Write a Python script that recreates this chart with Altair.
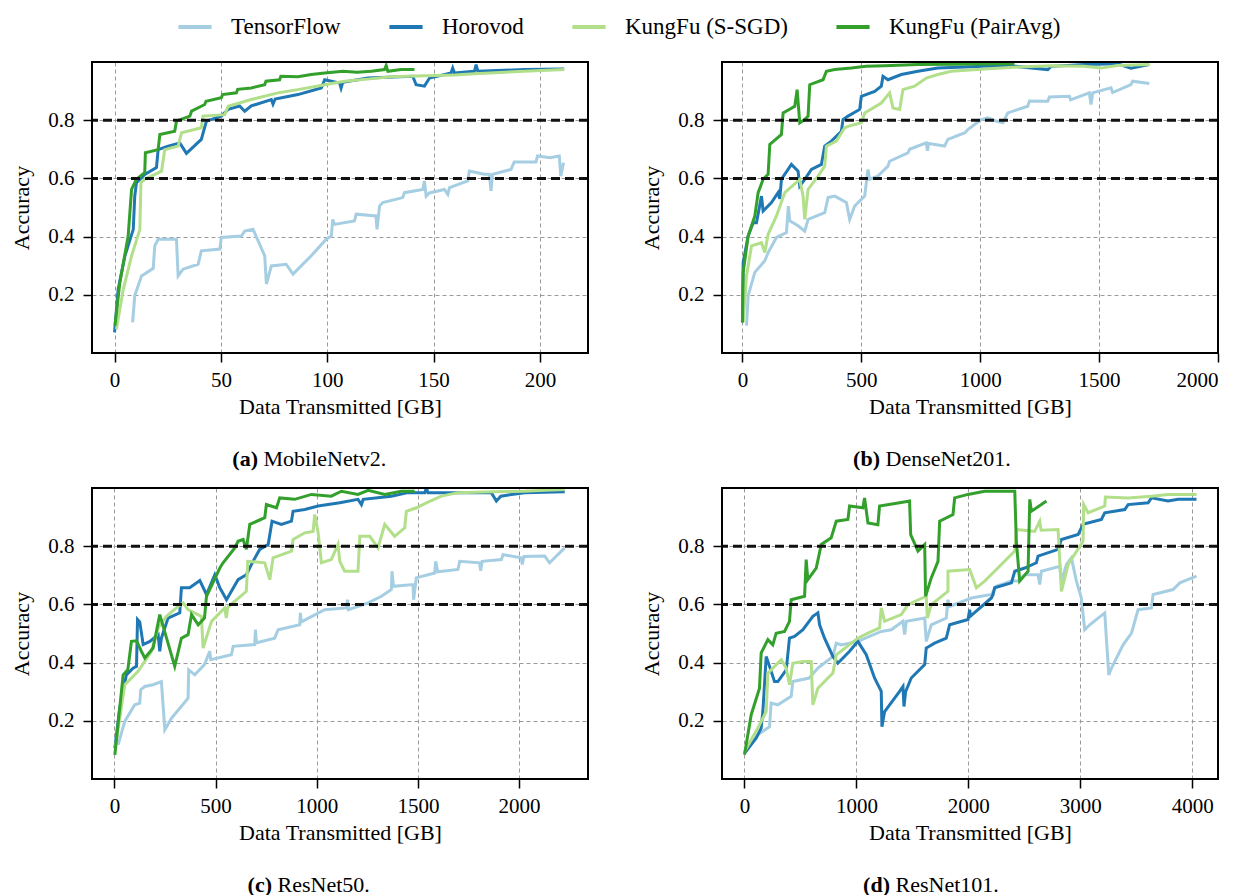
import altair as alt
import pandas as pd

SERIES = ["TensorFlow", "Horovod", "KungFu (S-SGD)", "KungFu (PairAvg)"]
COLORS = ["#a6cee3", "#1f78b4", "#b2df8a", "#33a02c"]
FONT = "Liberation Serif"
THRESHOLDS = [0.6, 0.8]
Y_TICKS = [0.2, 0.4, 0.6, 0.8]

# ---------------- (a) MobileNetv2 ----------------
A_TF = [(8.5,0.105),(9.5,0.197),(12.7,0.265),(18.2,0.291),(18.9,0.368),(20.5,0.391),(29.1,0.391),(29.9,0.265),
        (32.2,0.288),(39.3,0.305),(40.8,0.351),(49.5,0.357),(50.2,0.397),(59.6,0.402),(61.2,0.419),(65.1,0.425),
        (70.6,0.334),(71.4,0.237),(73.7,0.299),(80.7,0.305),(83.9,0.271),(92.5,0.334),(99.5,0.391),(101.9,0.402),
        (102.6,0.459),(103.4,0.442),(112.8,0.454),(113.6,0.477),(122.9,0.471),(123.4,0.425),(124.6,0.505),
        (126.1,0.517),(135.5,0.534),(136.3,0.551),(144.9,0.562),(145.7,0.591),(146.5,0.539),(148.0,0.550),
        (155.1,0.562),(156.7,0.545),(157.5,0.568),(166.1,0.591),(166.8,0.625),(173.9,0.614),(176.2,0.614),
        (177.0,0.557),(177.7,0.614),(186.4,0.631),(187.9,0.656),(198.1,0.656),(198.9,0.677),(204.8,0.671),
        (209.1,0.677),(209.8,0.608),(211.1,0.654)]
A_HV = [(0,0.071),(1.7,0.219),(4.9,0.334),(8.8,0.425),(9.5,0.539),(10.3,0.585),(14.2,0.614),(19.7,0.637),
        (20.5,0.699),(25.2,0.711),(30.7,0.722),(33.8,0.686),(40.8,0.734),(43.2,0.797),(50.2,0.814),(53.4,0.837),
        (58.8,0.849),(61.2,0.831),(64.3,0.849),(73.7,0.871),(74.5,0.855),(75.5,0.873),(86.2,0.888),(97.2,0.911),
        (98.8,0.939),(105.8,0.928),(106.5,0.910),(107.3,0.930),(119.1,0.945),(140.2,0.951),(141.8,0.922),
        (145.7,0.917),(148.1,0.945),(158.2,0.962),(159.0,0.979),(159.8,0.962),(169.2,0.968),(170.0,0.991),
        (170.8,0.968),(192.6,0.974),(211.4,0.976)]
A_SS = [(0.9,0.082),(4.1,0.219),(8.0,0.334),(11.9,0.425),(12.4,0.585),(14.2,0.597),(22.1,0.625),(23.6,0.699),
        (29.9,0.711),(31.5,0.757),(40.8,0.774),(41.6,0.814),(51.8,0.819),(53.4,0.848),(64.3,0.871),(76.8,0.894),
        (86.2,0.905),(98.8,0.922),(108.1,0.934),(120.0,0.942),(130.0,0.949),(145.7,0.953),(160.0,0.955),
        (169.2,0.960),(192.6,0.968),(211.4,0.974)]
A_PA = [(0.2,0.094),(2.5,0.242),(6.4,0.402),(8.0,0.562),(10.3,0.597),(14.2,0.620),(14.5,0.688),(20.5,0.699),
        (21.3,0.751),(28.3,0.762),(29.1,0.797),(35.4,0.814),(36.2,0.831),(42.4,0.854),(43.0,0.865),(50.2,0.877),
        (50.8,0.888),(57.3,0.894),(57.9,0.906),(64.3,0.911),(70.6,0.922),(71.2,0.934),(77.6,0.939),(78.2,0.951),
        (86.2,0.949),(92.5,0.957),(98.8,0.962),(107.4,0.968),(114.0,0.965),(120.7,0.968),(126.9,0.974),
        (127.7,0.988),(128.5,0.968),(134.7,0.974),(141.0,0.974)]

# ---------------- (b) DenseNet201 ----------------
B_TF = [(17,0.094),(24,0.197),(52,0.277),(94,0.317),(108,0.345),(143,0.397),(185,0.414),(193,0.505),(199,0.454),
        (234,0.437),(262,0.419),(276,0.459),(346,0.482),(360,0.534),(388,0.539),(437,0.517),(451,0.459),
        (472,0.505),(514,0.539),(528,0.631),(535,0.597),(570,0.608),(612,0.642),(619,0.659),(696,0.688),
        (703,0.700),(773,0.722),(778,0.695),(783,0.720),(850,0.711),(864,0.734),(936,0.757),(948,0.768),
        (1004,0.802),(1032,0.808),(1067,0.797),(1095,0.791),(1116,0.825),(1200,0.848),(1207,0.866),(1284,0.865),
        (1291,0.880),(1375,0.882),(1380,0.870),(1459,0.894),(1466,0.854),(1473,0.894),(1550,0.911),(1557,0.895),
        (1634,0.922),(1641,0.934),(1711,0.926)]
B_HV = [(0,0.105),(3,0.311),(24,0.402),(45,0.448),(59,0.448),(80,0.539),(87,0.488),(122,0.517),(150,0.551),
        (157,0.530),(164,0.597),(206,0.648),(234,0.625),(241,0.574),(262,0.597),(290,0.631),(332,0.648),
        (346,0.711),(374,0.728),(416,0.762),(423,0.802),(444,0.814),(493,0.837),(500,0.882),(556,0.899),
        (584,0.917),(591,0.951),(612,0.939),(668,0.957),(738,0.968),(822,0.979),(1018,0.985),(1150,0.985),
        (1284,0.974),(1298,0.985),(1438,0.991),(1578,0.994),(1634,0.979),(1711,0.991)]
B_SS = [(3,0.105),(17,0.265),(38,0.368),(80,0.379),(94,0.345),(108,0.408),(143,0.471),(178,0.551),(241,0.597),
        (255,0.539),(262,0.459),(276,0.562),(318,0.608),(346,0.642),(353,0.711),(395,0.728),(430,0.774),
        (444,0.779),(500,0.791),(514,0.825),(584,0.859),(619,0.894),(633,0.842),(661,0.837),(675,0.905),
        (724,0.917),(773,0.945),(822,0.957),(878,0.968),(1018,0.976),(1158,0.983),(1298,0.987),(1438,0.985),
        (1508,0.979),(1578,0.988),(1711,0.991)]
B_PA = [(0,0.105),(3,0.277),(24,0.402),(52,0.471),(66,0.551),(87,0.597),(108,0.614),(115,0.717),(164,0.751),
        (171,0.825),(220,0.848),(230,0.905),(241,0.791),(262,0.802),(276,0.814),(283,0.922),(339,0.939),
        (353,0.968),(388,0.974),(458,0.979),(520,0.985),(598,0.987),(738,0.991),(900,0.992),(1088,0.994),
        (1144,0.994)]

# ---------------- (c) ResNet50 ----------------
C_TF = [(18,0.117),(51,0.198),(100,0.255),(125,0.261),(130,0.307),(150,0.318),(191,0.324),(232,0.335),
        (249,0.169),(282,0.209),(364,0.278),(367,0.375),(397,0.358),(445,0.393),(471,0.439),(476,0.410),
        (578,0.427),(587,0.456),(693,0.462),(697,0.513),(702,0.468),(792,0.484),(809,0.513),(916,0.530),
        (919,0.571),(924,0.540),(1039,0.582),(1147,0.588),(1152,0.616),(1157,0.582),(1254,0.605),(1320,0.628),
        (1369,0.651),(1372,0.714),(1379,0.662),(1476,0.668),(1479,0.616),(1492,0.691),(1583,0.708),(1588,0.748),
        (1598,0.712),(1698,0.720),(1707,0.748),(1805,0.743),(1810,0.716),(1818,0.748),(1913,0.754),(1921,0.771),
        (2011,0.760),(2016,0.737),(2024,0.765),(2127,0.766),(2151,0.743),(2226,0.794)]
C_HV = [(2,0.106),(26,0.243),(59,0.358),(92,0.381),(109,0.387),(114,0.548),(125,0.540),(142,0.462),(175,0.473),
        (216,0.496),(224,0.439),(232,0.484),(265,0.553),(323,0.571),(331,0.657),(372,0.657),(422,0.682),
        (455,0.634),(496,0.702),(521,0.657),(554,0.616),(611,0.685),(652,0.702),(685,0.748),(718,0.789),
        (760,0.806),(779,0.886),(825,0.875),(875,0.886),(883,0.920),(941,0.926),(1007,0.938),(1114,0.949),
        (1204,0.961),(1221,0.943),(1230,0.961),(1369,0.972),(1451,0.984),(1534,0.984),(1542,1.0),(1550,0.984),
        (1698,0.984),(1863,0.984),(1888,0.955),(1910,0.972),(2028,0.984),(2226,0.987)]
C_SS = [(5,0.112),(51,0.324),(117,0.370),(183,0.439),(216,0.519),(257,0.559),(315,0.593),(339,0.605),
        (364,0.582),(430,0.559),(438,0.450),(480,0.542),(545,0.588),(553,0.553),(560,0.590),(652,0.645),
        (659,0.748),(743,0.743),(768,0.685),(784,0.760),(875,0.783),(883,0.823),(941,0.846),(982,0.851),
        (990,0.909),(1007,0.846),(1023,0.743),(1072,0.754),(1105,0.806),(1114,0.748),(1138,0.714),(1204,0.714),
        (1213,0.834),(1262,0.834),(1303,0.794),(1336,0.875),(1385,0.834),(1435,0.863),(1443,0.920),(1493,0.932),
        (1542,0.949),(1616,0.972),(1698,0.984),(1863,0.987),(2028,0.989),(2127,0.992),(2226,0.995)]
C_PA = [(2,0.083),(43,0.358),(66,0.375),(84,0.473),(109,0.475),(133,0.439),(150,0.416),(191,0.450),(224,0.565),
        (298,0.387),(331,0.484),(364,0.496),(381,0.565),(414,0.530),(445,0.553),(455,0.628),(521,0.725),
        (537,0.743),(595,0.794),(611,0.817),(636,0.823),(652,0.789),(669,0.875),(743,0.898),(751,0.943),
        (801,0.932),(817,0.966),(891,0.961),(974,0.978),(1072,0.972),(1122,0.989),(1204,0.978),(1254,0.992),
        (1336,0.978),(1418,0.989),(1484,0.989)]

# ---------------- (d) ResNet101 ----------------
D_TF = [(15,0.094),(119,0.152),(224,0.180),(238,0.261),(298,0.255),(417,0.284),(432,0.335),(578,0.347),
        (656,0.381),(790,0.421),(820,0.467),(864,0.461),(1013,0.473),(1222,0.507),(1311,0.513),(1416,0.542),
        (1431,0.496),(1446,0.542),(1610,0.553),(1624,0.473),(1669,0.530),(1803,0.553),(1818,0.616),(1833,0.593),
        (2027,0.622),(2206,0.634),(2250,0.662),(2385,0.680),(2444,0.680),(2504,0.702),(2623,0.702),(2638,0.668),
        (2653,0.714),(2817,0.731),(2832,0.680),(2877,0.737),(2921,0.760),(2966,0.680),(3010,0.622),(3040,0.513),
        (3085,0.530),(3219,0.571),(3255,0.358),(3279,0.381),(3383,0.461),(3458,0.501),(3517,0.582),(3636,0.588),
        (3651,0.634),(3830,0.651),(3890,0.674),(4039,0.697)]
D_HV = [(0,0.089),(104,0.140),(149,0.175),(164,0.232),(194,0.421),(224,0.387),(268,0.335),(298,0.335),
        (373,0.375),(402,0.484),(447,0.490),(522,0.513),(611,0.559),(656,0.571),(671,0.530),(715,0.484),
        (790,0.421),(834,0.398),(939,0.439),(1013,0.473),(1088,0.427),(1162,0.347),(1222,0.301),(1228,0.180),
        (1252,0.232),(1386,0.301),(1416,0.318),(1425,0.249),(1440,0.300),(1490,0.347),(1610,0.393),(1624,0.450),
        (1699,0.467),(1803,0.484),(1833,0.530),(1997,0.548),(2012,0.582),(2020,0.560),(2206,0.622),(2221,0.634),
        (2235,0.657),(2385,0.674),(2415,0.714),(2504,0.725),(2608,0.743),(2623,0.766),(2802,0.789),(2832,0.823),
        (2981,0.840),(3025,0.875),(3189,0.892),(3219,0.915),(3398,0.926),(3428,0.943),(3607,0.949),(3636,0.966),
        (3785,0.955),(3875,0.961),(4039,0.961)]
D_SS = [(0,0.094),(119,0.175),(194,0.232),(209,0.364),(328,0.410),(373,0.381),(402,0.324),(432,0.398),
        (522,0.404),(596,0.404),(611,0.255),(656,0.312),(790,0.364),(820,0.427),(1013,0.484),(1103,0.501),
        (1207,0.519),(1222,0.588),(1252,0.542),(1401,0.565),(1460,0.599),(1624,0.628),(1634,0.553),(1669,0.599),
        (1818,0.645),(1818,0.714),(2012,0.720),(2072,0.657),(2146,0.680),(2235,0.714),(2415,0.783),(2429,0.857),
        (2593,0.851),(2638,0.886),(2650,0.855),(2802,0.857),(2832,0.645),(2891,0.737),(3025,0.817),(3031,0.943),
        (3070,0.915),(3219,0.938),(3225,0.969),(3428,0.966),(3636,0.972),(3785,0.978),(4039,0.978)]
D_PA = [(0,0.083),(60,0.221),(134,0.312),(149,0.433),(209,0.479),(253,0.461),(283,0.501),(358,0.507),
        (402,0.542),(417,0.616),(537,0.628),(551,0.754),(566,0.685),(641,0.725),(686,0.806),(775,0.829),
        (820,0.886),(924,0.892),(939,0.938),(1058,0.932),(1073,0.966),(1103,0.880),(1192,0.874),(1207,0.938),
        (1386,0.949),(1475,0.955),(1485,0.840),(1550,0.783),(1610,0.806),(1618,0.628),(1669,0.691),(1729,0.748),
        (1744,0.886),(1863,0.909),(1878,0.966),(1997,0.978),(2146,0.989),(2415,0.989),(2429,0.817),(2459,0.680),
        (2534,0.714),(2549,0.961),(2564,0.920),(2698,0.955)]

PANELS = [
    dict(series=[A_TF, A_HV, A_SS, A_PA], domain=[-10.6, 222.6], ticks=[0, 50, 100, 150, 200],
         bold="(a)", name="MobileNetv2.", bx=166, nx=171.5),
    dict(series=[B_TF, B_HV, B_SS, B_PA], domain=[-86, 2000], ticks=[0, 500, 1000, 1500, 2000],
         bold="(b)", name="DenseNet201.", bx=158, nx=163.5),
    dict(series=[C_TF, C_HV, C_SS, C_PA], domain=[-111, 2341], ticks=[0, 500, 1000, 1500, 2000],
         bold="(c)", name="ResNet50.", bx=180, nx=185.5),
    dict(series=[D_TF, D_HV, D_SS, D_PA], domain=[-201, 4231], ticks=[0, 1000, 2000, 3000, 4000],
         bold="(d)", name="ResNet101.", bx=168, nx=173.5),
]

W, H = 496, 291
CAP_Y = 397


def make_panel(p):
    layers = []
    for name, pts in zip(SERIES, p["series"]):
        df = pd.DataFrame({"x": [q[0] for q in pts], "y": [q[1] for q in pts],
                           "i": list(range(len(pts))), "s": name})
        layers.append(
            alt.Chart(df).mark_line(strokeWidth=3, clip=True).encode(
                x=alt.X("x:Q", scale=alt.Scale(domain=p["domain"], nice=False, zero=False),
                        axis=alt.Axis(values=p["ticks"], format="d", title="Data Transmitted [GB]")),
                y=alt.Y("y:Q", scale=alt.Scale(domain=[0, 1], nice=False, zero=False),
                        axis=alt.Axis(values=Y_TICKS, format=".1f", title="Accuracy")),
                color=alt.Color("s:N", scale=alt.Scale(domain=SERIES, range=COLORS), title=None),
                order=alt.Order("i:Q"),
            )
        )
    thr = pd.DataFrame({"y": THRESHOLDS})
    layers.append(
        alt.Chart(thr).mark_rule(color="#111111", strokeWidth=3, strokeDash=[9, 5]).encode(y="y:Q")
    )
    cap = pd.DataFrame({"b": [p["bold"]], "n": [p["name"]]})
    # frame drawn on top (like matplotlib spines)
    layers.append(
        alt.Chart(cap).mark_rect(fillOpacity=0, stroke="black", strokeWidth=2).encode(
            x=alt.value(0), x2=alt.value(W), y=alt.value(0), y2=alt.value(H))
    )
    layers.append(
        alt.Chart(cap).mark_text(font=FONT, fontSize=22, fontWeight="bold", align="right",
                                 baseline="middle", color="black")
        .encode(text="b:N", x=alt.value(p["bx"]), y=alt.value(CAP_Y))
    )
    layers.append(
        alt.Chart(cap).mark_text(font=FONT, fontSize=22, align="left", baseline="middle", color="black")
        .encode(text="n:N", x=alt.value(p["nx"]), y=alt.value(CAP_Y))
    )
    return alt.layer(*layers).properties(width=W, height=H)


panels = [make_panel(p) for p in PANELS]
row1 = alt.hconcat(panels[0], panels[1], spacing=48)
row2 = alt.hconcat(panels[2], panels[3], spacing=48)

chart = (
    alt.vconcat(row1, row2, spacing=15)
    .resolve_scale(color="shared")
    .properties(padding={"left": 1, "top": 0, "right": 5, "bottom": 5})
    .configure_view(stroke="black", strokeWidth=2)
    .configure_axis(
        labelFont=FONT, labelFontSize=21, labelColor="black",
        titleFont=FONT, titleFontSize=22, titleFontWeight="normal", titleColor="black",
        tickColor="black", tickSize=9, tickWidth=1.5, domain=False,
        grid=True, gridColor="#9a9a9a", gridDash=[4, 3], gridWidth=1,
    )
    .configure_axisX(labelPadding=7, titlePadding=6)
    .configure_axisY(labelPadding=9, titlePadding=14)
    .configure_legend(
        orient="none", legendX=84, legendY=-54, direction="horizontal",
        symbolType="stroke", symbolSize=1100, symbolStrokeWidth=4,
        labelFont=FONT, labelFontSize=23, labelColor="black", labelLimit=400,
        columnPadding=40, labelOffset=17,
    )
)

chart.save("out.html", embed_options={"renderer": "svg", "actions": False})
